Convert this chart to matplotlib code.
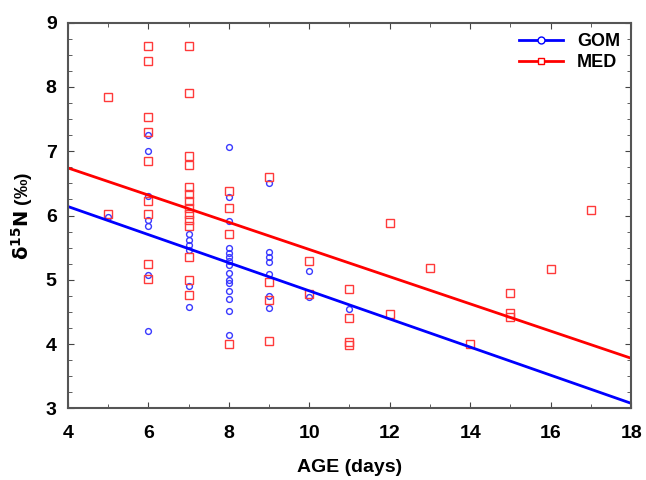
# Import packages.
import numpy as np
import matplotlib.pyplot as plt
from matplotlib.ticker import MultipleLocator

# GOM samples (age in days, delta15N).
gom_age = [5, 6, 6, 6, 6, 6, 6, 6,
           7, 7, 7, 7, 7, 7,
           8, 8, 8, 8, 8, 8, 8, 8, 8, 8, 8, 8, 8, 8, 8,
           9, 9, 9, 9, 9, 9, 9,
           10, 10, 11]
gom_d15n = [5.97, 7.25, 7.00, 6.31, 5.93, 5.83, 5.08, 4.20,
            5.72, 5.62, 5.54, 5.47, 4.90, 4.58,
            7.07, 6.29, 5.91, 5.50, 5.42, 5.36, 5.30, 5.23, 5.11, 5.00, 4.95, 4.83, 4.70, 4.52, 4.15,
            6.50, 5.43, 5.35, 5.28, 5.09, 4.75, 4.56,
            5.14, 4.73, 4.54]

# MED samples.
med_age = [5, 5, 6, 6, 6, 6, 6, 6, 6, 6, 6,
           7, 7, 7, 7, 7, 7, 7, 7, 7, 7, 7, 7, 7, 7,
           8, 8, 8, 8,
           9, 9, 9, 9,
           10, 10, 11, 11, 11, 11,
           12, 12, 13, 14, 15, 15, 15, 16, 17]
med_d15n = [7.84, 6.02, 8.64, 8.41, 7.53, 7.30, 6.84, 6.22, 6.03, 5.25, 5.02,
            8.64, 7.91, 6.93, 6.79, 6.44, 6.34, 6.22, 6.12, 6.02, 5.93, 5.83, 5.35, 5.00, 4.76,
            6.38, 6.12, 5.71, 4.01,
            6.60, 4.96, 4.68, 4.05,
            5.30, 4.78, 4.86, 4.40, 4.04, 3.98,
            5.88, 4.47, 5.18, 4.01, 4.79, 4.48, 4.42, 5.17, 6.09]

# Regression fits (intercept, slope).
gom_fit = (7.015, -0.2186)
med_fit = (7.586, -0.2114)
age_range = [4, 18]

plt.rcParams['font.family'] = ['Liberation Sans', 'DejaVu Sans']
plt.rcParams['font.weight'] = 'bold'

fig = plt.figure(figsize=(6.46, 4.8), dpi=100)
ax = fig.add_axes([0.105, 0.149, 0.872, 0.804])

xs = np.array(age_range, dtype=float)

# Scatter points.
ax.plot(gom_age, gom_d15n, 'o', ls='none', mfc='none', mec='#3a3aff', ms=4.2, mew=1.0)
ax.plot(med_age, med_d15n, 's', ls='none', mfc='none', mec='#ff3a3a', ms=5.2, mew=1.0)

# Fit lines.
ax.plot(xs, gom_fit[0] + gom_fit[1] * xs, color='#0000ff', lw=2)
ax.plot(xs, med_fit[0] + med_fit[1] * xs, color='#ff0000', lw=2)

# Legend entries.
h1, = ax.plot([], [], color='#0000ff', lw=2, marker='o', mfc='white', mec='#0000ff', ms=5)
h2, = ax.plot([], [], color='#ff0000', lw=2, marker='s', mfc='white', mec='#ff0000', ms=5)
leg = ax.legend([h1, h2], ['GOM', 'MED'], loc='upper right', frameon=False,
                prop={'weight': 'bold', 'size': 13}, handlelength=2.4,
                borderaxespad=0.2, labelspacing=0.2)

ax.set_xlim(4, 18)
ax.set_ylim(3, 9)
ax.xaxis.set_major_locator(MultipleLocator(2))
ax.xaxis.set_minor_locator(MultipleLocator(1))
ax.yaxis.set_major_locator(MultipleLocator(1))
ax.yaxis.set_minor_locator(MultipleLocator(0.25))
ax.tick_params(which='both', direction='in', top=True, right=True, color='#444444')
ax.tick_params(which='major', length=4, labelsize=14)
ax.tick_params(axis='x', which='major', pad=12)
ax.tick_params(axis='y', which='major', pad=8)
ax.tick_params(which='minor', length=3)
for s in ax.spines.values():
    s.set_color('#555555')
    s.set_linewidth(1.5)

ax.set_xlabel('AGE (days)', fontsize=14, fontweight='bold', labelpad=12)
ax.set_ylabel(r'$\mathbf{\delta^{15}N}$ (‰)', fontsize=14, fontweight='bold', labelpad=8)

fig.savefig('out.png', dpi=100)
